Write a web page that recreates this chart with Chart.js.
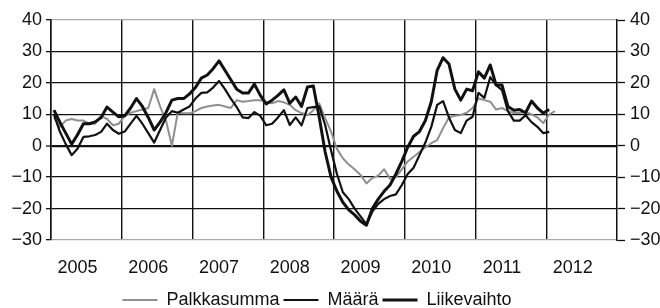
<!DOCTYPE html>
<html>
<head>
<meta charset="utf-8">
<script src="https://cdn.jsdelivr.net/npm/chart.js@4.4.1/dist/chart.umd.min.js"></script>
<style>
  html, body { margin: 0; background: #fff; }
  #wrap { width: 660px; height: 308px; }
</style>
</head>
<body>
<div id="wrap"><canvas id="kuva"></canvas></div>
<script>
// Vuodet x-akselilla, kuukausittaiset kategoriat rakennetaan niistä
const vuodet = ['2005', '2006', '2007', '2008', '2009', '2010', '2011', '2012'];
const kuukaudet = ['01','02','03','04','05','06','07','08','09','10','11','12'];

// Muutos %, luettu kuvasta (tammikuu 2005 alkaen)
const palkkasumma = [
  9, 6, 8, 8.5, 8, 8, 7, 7, 9.4, 8.5, 6.5, 7,
  9.5, 10.5, 11, 11.5, 12, 18, 12.5, 8, 0, 10.5, 10.3, 10.3,
  11, 12, 12.5, 12.8, 13, 12.5, 12, 14.5, 14, 14.2, 14.5, 14.5,
  13.8, 13.5, 14.2, 13.8, 13, 11.3, 10.4, 9.7, 11.3, 13.5, 8.8, 4.5,
  -1, -4, -6, -7.5, -9.3, -12, -10.3, -9.5, -7.5, -10.5, -10, -7.5,
  -5, -3.5, -2, -0.5, 0.8, 1.8, 5.6, 9, 9.5, 9.8, 10.5, 12,
  15, 14.5, 14, 11.5, 12, 11, 10.4, 10.4, 10.7, 10, 9, 7.2,
  10, 11
];
const maara = [
  10, 4.5, 0.5, -3, -1, 2.8, 3, 3.4, 4.4, 7, 5, 3.8,
  4.5, 7, 9.5, 7, 4, 1, 5, 9, 11, 10.5, 11.5, 12.5,
  15, 16.8, 17, 18.5, 20.6, 18, 15, 12.3, 9, 8.8, 10.7, 9.5,
  6.5, 7, 9, 11.3, 6.6, 9, 6.5, 12, 12.3, 12.5, 6.6, -1.5,
  -9, -14.8, -17, -20, -22.5, -25, -21, -18.5, -17, -16, -15.5, -12.5,
  -9, -7, -3, 1, 6, 13, 14.2, 9, 5, 4, 8, 9.2,
  16.8, 15.2, 21.8, 19.3, 17.7, 11, 8, 8, 9.7, 7.5, 6, 4,
  4.4
];
const liikevaihto = [
  11.3, 7.5, 4, 0.5, 3.5, 7, 7, 7.6, 9, 12.3, 10.7, 9.2,
  9.5, 12, 15, 12.5, 9, 5, 7.5, 10.5, 14.5, 15, 15, 16.5,
  18.5, 21.5, 22.5, 24.5, 27, 24, 21, 18, 16.8, 16.8, 19.6, 16,
  13.3, 14.5, 16, 17.8, 13.5, 15.5, 12.5, 18.7, 19, 9, -2, -10,
  -14.5, -18, -20.4, -22, -24, -25.3, -20, -17, -14.5, -12.5, -9, -5,
  -0.5, 3, 4.5, 8, 14, 24, 28, 26, 18, 14.5, 18, 17.5,
  23.5, 21.5, 25.7, 19.3, 19.3, 12.5, 11.3, 11.5, 10.5, 14.2, 12, 10.4,
  11.5
];

const kategoriat = vuodet.flatMap(v => kuukaudet.map(k => v + '-' + k));

const miinus = v => v < 0 ? '\u2212' + Math.abs(v) : String(v);
Chart.defaults.font.family = '"Liberation Sans", Arial, Helvetica, sans-serif';
Chart.defaults.font.size = 18;
Chart.defaults.color = '#111';

// legenda hieman vasemmalle kuten alkuperäisessä
const legendaSiirto = {
  id: 'legendaSiirto',
  afterLayout(chart) { chart.legend.right -= 26; }
};

new Chart(document.getElementById('kuva'), {
  type: 'line',
  data: {
    labels: kategoriat,
    datasets: [
      { label: 'Palkkasumma', data: palkkasumma, borderColor: '#8f8f8f', borderWidth: 2, order: 3 },
      { label: 'Määrä', data: maara, borderColor: '#111', borderWidth: 2.2, order: 2 },
      { label: 'Liikevaihto', data: liikevaihto, borderColor: '#111', borderWidth: 3, order: 1 }
    ]
  },
  plugins: [legendaSiirto],
  options: {
    responsive: true,
    maintainAspectRatio: false,
    animation: false,
    elements: { point: { radius: 0 }, line: { tension: 0, borderJoinStyle: 'round' } },
    layout: { padding: { top: 20, left: 0, right: 0, bottom: -11 } },
    plugins: {
      tooltip: { enabled: false },
      legend: {
        position: 'bottom',
        labels: {
          usePointStyle: true,
          pointStyle: 'line',
          pointStyleWidth: 35,
          padding: 4,
          color: '#111',
          font: { size: 18, lineHeight: 1 },
          sort: (a, b) => a.datasetIndex - b.datasetIndex
        }
      }
    },
    scales: {
      x: {
        type: 'category',
        offset: true,
        afterFit: s => { s.height = 47; },
        border: { display: false },
        grid: {
          offset: true,
          drawTicks: false,
          color: ctx => ctx.index % 12 === 0 ? '#111' : 'rgba(0,0,0,0)',
          lineWidth: 1.4
        },
        ticks: {
          autoSkip: false,
          maxRotation: 0,
          padding: 17,
          color: '#111',
          callback: (val, i) => i % 12 === 4 ? vuodet[Math.floor(i / 12)] : ''
        }
      },
      y: {
        position: 'left',
        min: -30, max: 40,
        afterFit: s => { s.width = 51; },
        border: { display: true, color: '#111', width: 1.5 },
        grid: {
          color: ctx => (ctx.tick.value === 40 || ctx.tick.value === -30) ? '#aaa' : '#111',
          lineWidth: ctx => ctx.tick.value === 0 ? 2.2 : 1.3,
          tickColor: '#111',
          tickLength: 5,
          tickWidth: 1.3
        },
        ticks: { stepSize: 10, padding: 4, color: '#111', callback: miinus }
      },
      y2: {
        position: 'right',
        min: -30, max: 40,
        afterFit: s => { s.width = 43; },
        border: { display: true, color: '#111', width: 1.5 },
        grid: { drawOnChartArea: false, tickColor: '#111', tickLength: 8, tickWidth: 1.3 },
        ticks: { stepSize: 10, padding: 5, color: '#111', callback: miinus }
      }
    }
  }
});
</script>
</body>
</html>
